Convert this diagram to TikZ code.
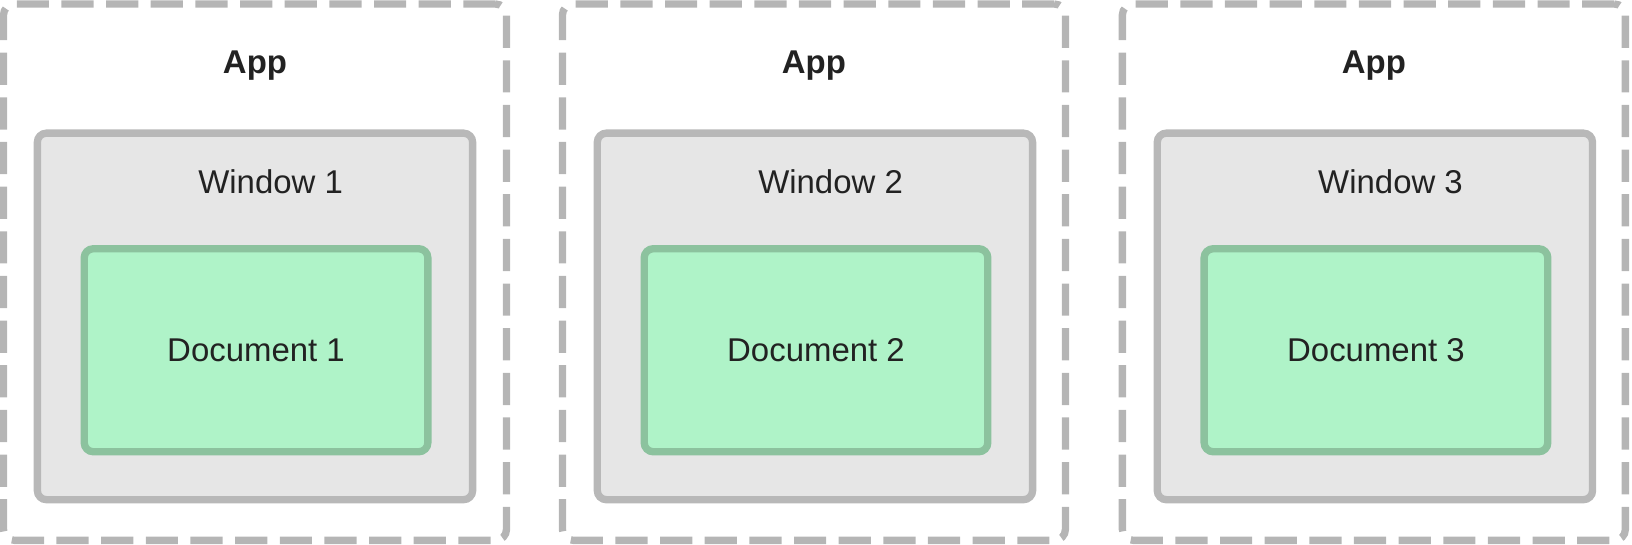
\documentclass[tikz,border=0pt]{standalone}
\usepackage{fontspec}
\setmainfont{Liberation Sans}
\usetikzlibrary{positioning}
\definecolor{dashgray}{HTML}{B5B5B5}
\definecolor{winfill}{HTML}{E6E6E6}
\definecolor{winline}{HTML}{B8B8B8}
\definecolor{docfill}{HTML}{AFF3C8}
\definecolor{docline}{HTML}{8CC29E}
\definecolor{textdark}{HTML}{222222}
\tikzset{
  appbox/.style={draw=dashgray, line width=2pt, dash pattern=on 8.8pt off 3.4pt, rounded corners=3pt, minimum width=4.83cm, minimum height=5.15cm, inner sep=0pt},
  winbox/.style={draw=winline, fill=winfill, line width=2pt, rounded corners=2.5pt, minimum width=4.18cm, minimum height=3.52cm, inner sep=0pt},
  docbox/.style={draw=docline, fill=docfill, line width=2pt, rounded corners=2.5pt, minimum width=3.3cm, minimum height=1.95cm, text=textdark, font=\fontsize{9}{11}\selectfont},
  boxtext/.style={text=textdark, font=\fontsize{9}{11}\selectfont, inner sep=0pt},
  apptext/.style={boxtext, font=\fontsize{9}{11}\selectfont\bfseries}
}
\begin{document}
\begin{tikzpicture}[x=0.01cm,y=-0.01cm]
\useasboundingbox (0,0) rectangle (1568,523);
% first app
\node[appbox] (app1) at (245,261.5) {};
\node[apptext] (apptext1) at (245,63) {App};
\node[winbox] (win1) at (245,304) {};
\node[boxtext] (wintext1) at (260,175) {Window 1};
\node[docbox] (doc1) at (246,336.5) {Document 1};
% second app
\node[appbox] (app2) at (782,261.5) {};
\node[apptext] (apptext2) at (782,63) {App};
\node[winbox] (win2) at (783,304) {};
\node[boxtext] (wintext2) at (798,175) {Window 2};
\node[docbox] (doc2) at (784,336.5) {Document 2};
% third app
\node[appbox] (app3) at (1320,261.5) {};
\node[apptext] (apptext3) at (1320,63) {App};
\node[winbox] (win3) at (1321,304) {};
\node[boxtext] (wintext3) at (1336,175) {Window 3};
\node[docbox] (doc3) at (1322,336.5) {Document 3};
\end{tikzpicture}
\end{document}
